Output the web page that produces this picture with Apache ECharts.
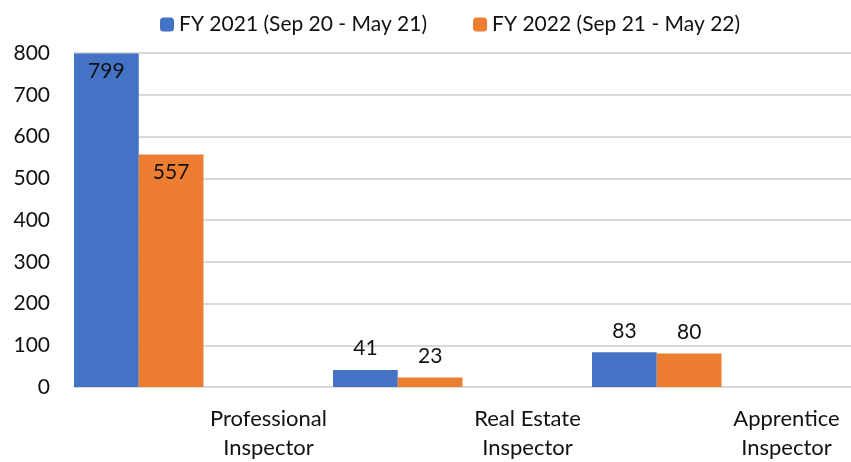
<!DOCTYPE html>
<html>
<head>
<meta charset="utf-8">
<script src="https://cdn.jsdelivr.net/npm/echarts@6/dist/echarts.min.js"></script>
<style>
  html, body { margin: 0; padding: 0; background: #fff; }
  #chart { width: 851px; height: 462px; }
</style>
</head>
<body>
<div id="chart"></div>
<script>
var categories = ['Professional\nInspector', 'Real Estate\nInspector', 'Apprentice\nInspector'];
var fy2021 = [799, 41, 83];
var fy2022 = [557, 23, 80];
var yTicks = [0, 100, 200, 300, 400, 500, 600, 700, 800];

var font = 'Lato';

// big bars get the label inside, small ones on top
function withLabels(values) {
	var out = [];
	for (var i = 0; i < values.length; i++) {
		out.push({
			value: values[i],
			label: { position: values[i] > 300 ? 'insideTop' : 'top', distance: values[i] > 300 ? 7 : 11 }
		});
	}
	return out;
}

var chart = echarts.init(document.getElementById('chart'));
var option = {
	animation: false,
	textStyle: { fontFamily: font },
	legend: {
		data: ['FY 2021 (Sep 20 - May 21)', 'FY 2022 (Sep 21 - May 22)'],
		left: 155,
		top: 9,
		itemWidth: 14,
		itemHeight: 14,
		itemGap: 46,
		textStyle: { fontFamily: font, fontSize: 21, color: '#111' }
	},
	grid: { left: 74, right: 0, top: 53, bottom: 73 },
	xAxis: {
		type: 'category',
		data: categories,
		axisTick: { show: false },
		axisLine: { lineStyle: { color: '#d9d9d9', width: 2 } },
		axisLabel: {
			fontFamily: font,
			fontSize: 22,
			color: '#111',
			lineHeight: 29,
			margin: 17,
			interval: 0,
			padding: [0, 0, 0, 130]
		}
	},
	yAxis: {
		type: 'value',
		min: yTicks[0],
		max: yTicks[yTicks.length - 1],
		interval: 100,
		axisLabel: { fontFamily: font, fontSize: 21, color: '#111', margin: 24 },
		splitLine: { lineStyle: { color: '#d9d9d9', width: 2 } }
	},
	series: [
		{
			name: 'FY 2021 (Sep 20 - May 21)',
			type: 'bar',
			data: withLabels(fy2021),
			barGap: 0,
			barCategoryGap: 0,
			itemStyle: { color: '#4472C4' },
			label: { show: true, fontFamily: font, fontSize: 21, color: '#111' }
		},
		{
			name: 'FY 2022 (Sep 21 - May 22)',
			type: 'bar',
			data: withLabels(fy2022),
			barGap: 0,
			barCategoryGap: 0,
			itemStyle: { color: '#ED7D31' },
			label: { show: true, fontFamily: font, fontSize: 21, color: '#111' }
		},
		// two empty slots, the original chart keeps room for them
		{ name: 'empty1', type: 'bar', data: [null, null, null], barGap: 0, barCategoryGap: 0 },
		{ name: 'empty2', type: 'bar', data: [null, null, null], barGap: 0, barCategoryGap: 0 }
	]
};
chart.setOption(option);
</script>
</body>
</html>
